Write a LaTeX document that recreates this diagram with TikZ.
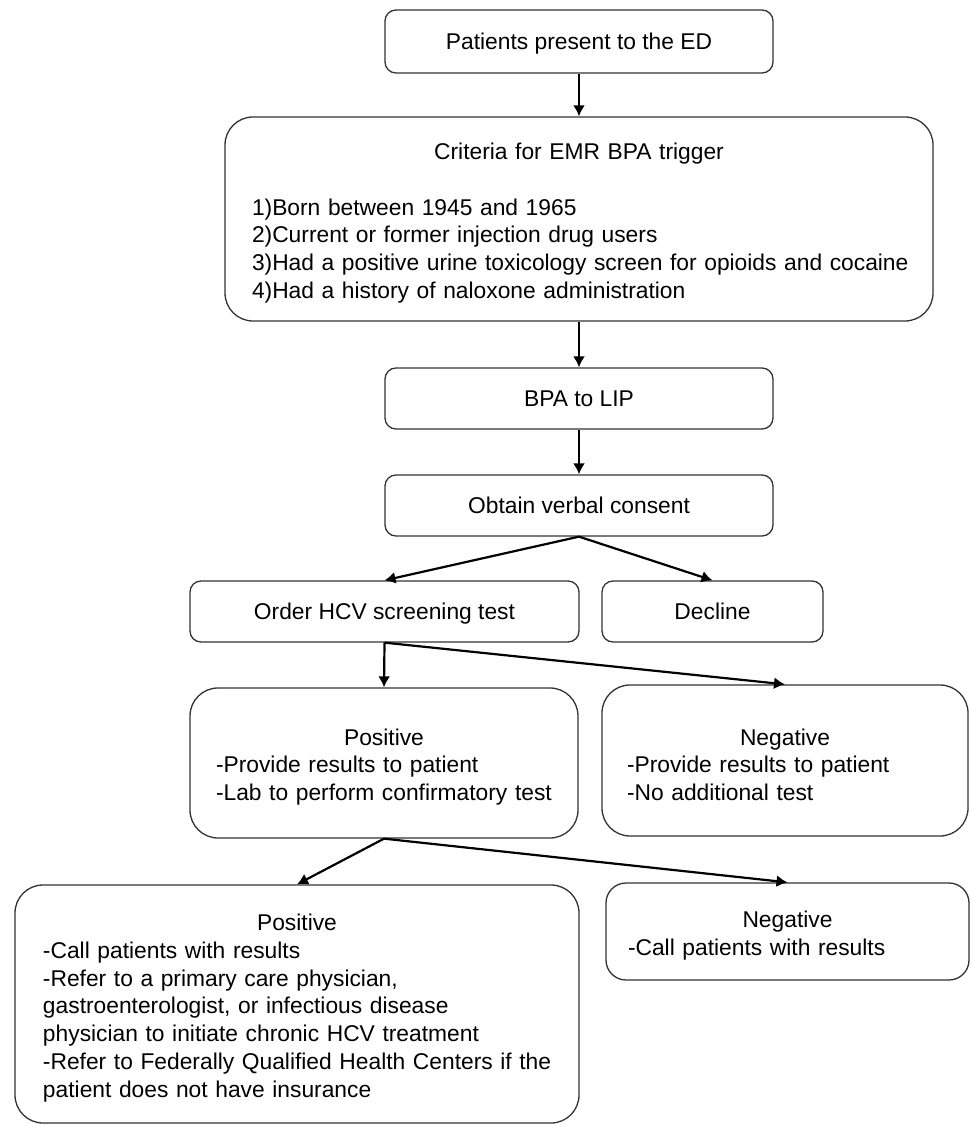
\documentclass[tikz,border=0pt]{standalone}
\usepackage{fontspec}
\setmainfont{Liberation Sans}
\usetikzlibrary{arrows.meta}

\def\linepitch{27.7pt}
\def\boxtitle#1{\vskip-3pt{\centering #1\par}\leftskip=20pt}

\begin{document}
\begin{tikzpicture}[x=1pt,y=-1pt,->,>={Latex[length=11pt,width=12pt]},
	every node/.append style={font=\fontsize{22.8}{27.7}\selectfont},
	every edge/.append style={line width=2.2pt}]
    \tikzstyle{stepbox}=[rectangle,draw=black!80,line width=1.3pt,inner sep=0pt,rounded corners=11pt]
    \tikzstyle{line box}=[stepbox,text depth=0pt,minimum height=61pt]
    \tikzstyle{list box}=[stepbox,rounded corners=28pt]

    \useasboundingbox (0,0) rectangle (970,1126);

    % Draw the entry and the trigger criteria
    \node[line box, minimum width=388pt, minimum height=63pt] (ED) at (579,41.5) {Patients present to the ED};
    \node[list box, minimum width=708pt, minimum height=204pt, text width=694pt] (crit) at (579,219)
        {\boxtitle{Criteria for EMR BPA trigger}\vskip\linepitch
         1)Born between 1945 and 1965\\
         2)Current or former injection drug users\\
         3)Had a positive urine toxicology screen for opioids and cocaine\\
         4)Had a history of naloxone administration\par};
    \node[line box, minimum width=388pt] (BPA) at (579,398.5) {BPA to LIP};
    \node[line box, minimum width=388pt] (consent) at (579,505.5) {Obtain verbal consent};

    % Draw the consent branches
    \node[line box, minimum width=389pt] (order) at (384.5,611.5) {Order HCV screening test};
    \node[line box, minimum width=221pt] (decline) at (712.5,611.5) {Decline};

    % Draw the screening results
    \node[list box, minimum width=388pt, minimum height=150pt, text width=376pt] (pos-1) at (384,763)
        {\boxtitle{Positive}
         -Provide results to patient\\
         -Lab to perform confirmatory test\par};
    \node[list box, minimum width=366pt, minimum height=151pt, text width=356pt] (neg-1) at (785,760.5)
        {\boxtitle{Negative}
         -Provide results to patient\\
         -No additional test\par};

    % Draw the confirmatory results
    \node[list box, minimum width=564pt, minimum height=238pt, text width=548pt] (pos-2) at (297,1004)
        {\boxtitle{Positive}
         -Call patients with results\\
         -Refer to a primary care physician,\\
         gastroenterologist, or infectious disease\\
         physician to initiate chronic HCV treatment\\
         -Refer to Federally Qualified Health Centers if the\\
         patient does not have insurance\par};
    \node[list box, rounded corners=20pt, minimum width=363pt, minimum height=97pt, text width=359pt] (neg-2) at (787.5,931.5)
        {\boxtitle{Negative}
         -Call patients with results\par};

    % Connect the steps
    \path (ED.south) edge (crit.north);
    \path (crit.south) edge (BPA.north);
    \path (BPA.south) edge (consent.north);
    \path (consent.south) edge (order.north);
    \path (consent.south) edge (decline.north);
    \path (order.south) edge (pos-1.north);
    \path (order.south) edge (neg-1.north);
    \path (pos-1.south) edge (pos-2.north);
    \path (pos-1.south) edge (neg-2.north);
\end{tikzpicture}
\end{document}
